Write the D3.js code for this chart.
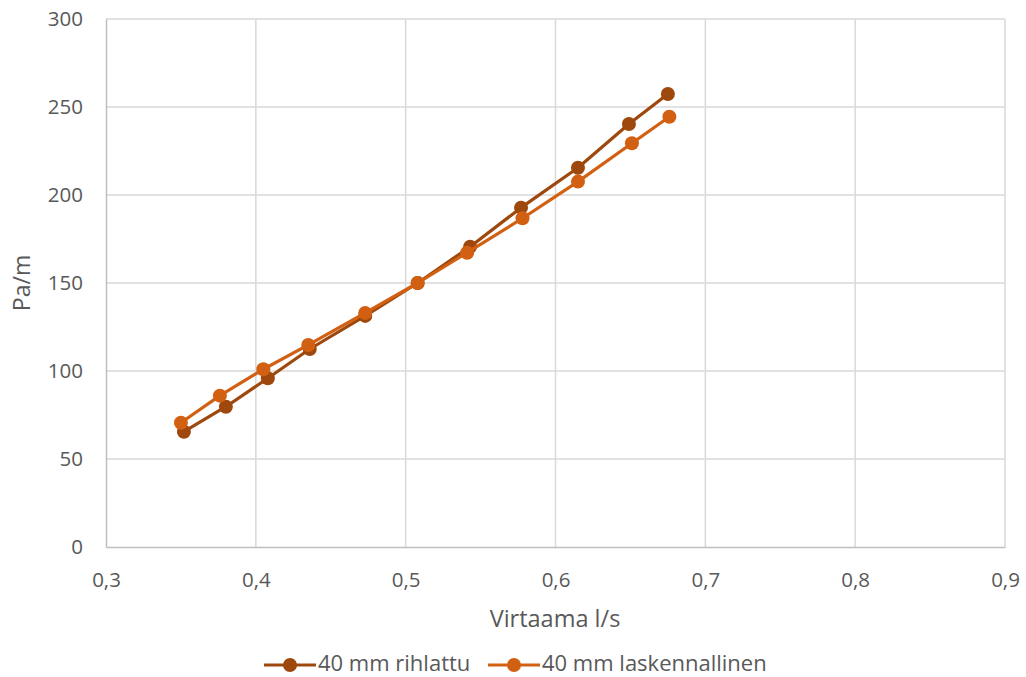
<!DOCTYPE html>
<html>
<head>
<meta charset="utf-8">
<script src="https://cdn.jsdelivr.net/npm/d3@7"></script>
<style>
  html, body { margin: 0; padding: 0; background: #fff; }
  svg { display: block; }
  text { font-family: "Open Sans", "Noto Sans", sans-serif; fill: #595959; }
</style>
</head>
<body>
<svg id="chart" width="1026" height="677"></svg>
<script>
// Measured pressure loss (Pa/m) vs. flow rate (l/s), 40 mm pipe
const seriesNames = ["40 mm rihlattu", "40 mm laskennallinen"];
const flowRihlattu = [0.352, 0.380, 0.408, 0.436, 0.473, 0.508, 0.543, 0.577, 0.615, 0.649, 0.675];
const paRihlattu   = [65.5, 79.7, 95.9, 112.5, 131.3, 150.0, 170.6, 192.8, 215.5, 240.3, 257.4];
const flowLaskennallinen = [0.350, 0.376, 0.405, 0.435, 0.473, 0.508, 0.541, 0.578, 0.615, 0.651, 0.676];
const paLaskennallinen   = [70.6, 86.0, 101.0, 114.8, 133.0, 150.0, 167.2, 186.8, 207.6, 229.4, 244.5];
const xTicks = [0.3, 0.4, 0.5, 0.6, 0.7, 0.8, 0.9];
const yTicks = [0, 50, 100, 150, 200, 250, 300];
const colors = ["#9e480e", "#d26012"];

const svg = d3.select("#chart");
const margin = { left: 106, right: 1026 - 1005, top: 19, bottom: 677 - 547 };
const W = 1026, H = 677;
const tickFont = 20.5;

const x = d3.scaleLinear().domain([0.3, 0.9]).range([margin.left, W - margin.right]);
const y = d3.scaleLinear().domain([0, 300]).range([H - margin.bottom, margin.top]);
const fmt = d => d3.format(".1f")(d).replace(".", ",");

// gridlines
const grid = svg.append("g");
grid.selectAll("line.h").data(yTicks.slice(1)).join("line")
  .attr("x1", x(0.3)).attr("x2", x(0.9))
  .attr("y1", d => y(d)).attr("y2", d => y(d))
  .attr("stroke", "#d9d9d9").attr("stroke-width", 1.5);
grid.selectAll("line.v").data(xTicks.slice(1)).join("line")
  .attr("x1", d => x(d)).attr("x2", d => x(d))
  .attr("y1", y(0)).attr("y2", y(300))
  .attr("stroke", "#d9d9d9").attr("stroke-width", 1.5);

// axes
const xAxis = svg.append("g").attr("transform", `translate(0,${y(0)})`)
  .call(d3.axisBottom(x).tickValues(xTicks).tickFormat(fmt).tickSize(0).tickPadding(25));
xAxis.select(".domain").attr("stroke", "#bfbfbf").attr("stroke-width", 1.5);
xAxis.selectAll("text").attr("font-size", tickFont).attr("fill", "#595959")
  .style("font-family", "'Open Sans', sans-serif");

const yAxis = svg.append("g").attr("transform", `translate(${x(0.3)},0)`)
  .call(d3.axisLeft(y).tickValues(yTicks).tickSize(0).tickPadding(23));
yAxis.select(".domain").attr("stroke", "#bfbfbf").attr("stroke-width", 1.5);
yAxis.selectAll("text").attr("font-size", tickFont).attr("fill", "#595959")
  .style("font-family", "'Open Sans', sans-serif");

// axis titles
svg.append("text").attr("x", 555).attr("y", 627).attr("text-anchor", "middle")
  .attr("font-size", 23.5).text("Virtaama l/s");
svg.append("text").attr("transform", "translate(30,283) rotate(-90)")
  .attr("text-anchor", "middle").attr("font-size", 23).text("Pa/m");

// series
const series = [
  { name: seriesNames[0], xs: flowRihlattu, ys: paRihlattu, color: colors[0] },
  { name: seriesNames[1], xs: flowLaskennallinen, ys: paLaskennallinen, color: colors[1] }
];
const line = d3.line().x(d => x(d[0])).y(d => y(d[1]));

series.forEach(s => {
  const pts = s.xs.map((v, i) => [v, s.ys[i]]);
  const g = svg.append("g");
  g.append("path").datum(pts).attr("d", line)
    .attr("fill", "none").attr("stroke", s.color).attr("stroke-width", 3.2)
    .attr("stroke-linejoin", "round");
  g.selectAll("circle").data(pts).join("circle")
    .attr("cx", d => x(d[0])).attr("cy", d => y(d[1])).attr("r", 7)
    .attr("fill", s.color);
});

// legend
const legendItems = [{ x0: 264, s: series[0] }, { x0: 488, s: series[1] }];
legendItems.forEach(({ x0, s }) => {
  const g = svg.append("g").attr("transform", `translate(${x0},665)`);
  g.append("line").attr("x1", 0).attr("x2", 52).attr("y1", 0).attr("y2", 0)
    .attr("stroke", s.color).attr("stroke-width", 3.2);
  g.append("circle").attr("cx", 26).attr("cy", 0).attr("r", 7).attr("fill", s.color);
  g.append("text").attr("x", 54).attr("y", 5.5)
    .attr("font-size", 22).text(s.name);
});
</script>
</body>
</html>
